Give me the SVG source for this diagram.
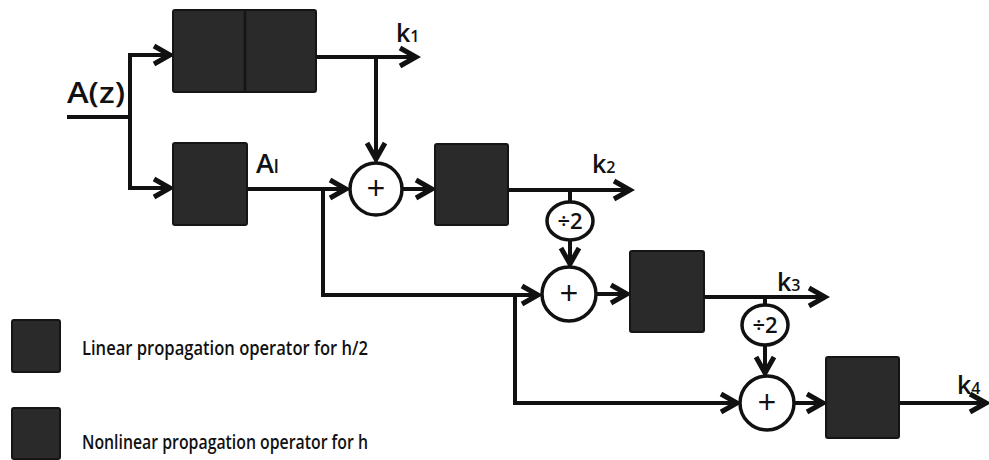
<svg xmlns="http://www.w3.org/2000/svg" width="989" height="460" viewBox="0 0 989 460">
<style>
.box{fill:#2a2a2a;stroke:#151515;stroke-width:2}
.wire{fill:none;stroke:#111;stroke-width:4;stroke-linejoin:miter}
.arr{marker-end:url(#ah)}
.op{fill:#fff;stroke:#111;stroke-width:3.5}
.t{font-family:"Open Sans","Liberation Sans",sans-serif;fill:#111;font-weight:600}
.sym{font-family:"Open Sans","Liberation Sans",sans-serif;fill:#111;text-anchor:middle}
</style>
<defs>
<marker id="ah" viewBox="0 0 24 24" refX="20" refY="12" markerWidth="24" markerHeight="24" markerUnits="userSpaceOnUse" orient="auto">
<path d="M3,3 L19,12 L3,21" fill="none" stroke="#111" stroke-width="5" stroke-linejoin="miter"/>
</marker>
</defs>
<rect width="989" height="460" fill="#fff"/>

<g id="connectors">
<path class="wire" d="M67,117 H130"/>
<path class="wire arr" d="M130,119 V55 H171"/>
<path class="wire arr" d="M130,115 V188 H171"/>
<path class="wire arr" d="M316,57 H417"/>
<path class="wire arr" d="M376,57 V160"/>
<path class="wire arr" d="M247,189 H347"/>
<path class="wire arr" d="M323,189 V295 H539"/>
<path class="wire arr" d="M402,189 H433"/>
<path class="wire arr" d="M508,190 H631"/>
<path class="wire" d="M570,190 V202"/>
<path class="wire arr" d="M570,240 V265"/>
<path class="wire arr" d="M596,294 H628"/>
<path class="wire arr" d="M515,294 V403 H738"/>
<path class="wire arr" d="M704,297 H826"/>
<path class="wire" d="M765,297 V305"/>
<path class="wire arr" d="M765,345 V374"/>
<path class="wire arr" d="M794,403 H824"/>
<path class="wire arr" d="M899,403 H987"/>
</g>

<g id="input-label"><text class="t" x="67" y="103" font-size="29" font-weight="500" textLength="58" lengthAdjust="spacingAndGlyphs">A(z)</text></g>

<g id="box-top">
<rect class="box" x="173" y="10" width="143" height="82" rx="2"/>
<line x1="245" y1="11" x2="245" y2="91" stroke="#151515" stroke-width="2.5"/>
</g>
<g id="box-al">
<rect class="box" x="173" y="143" width="74" height="82" rx="2"/>
<text class="t" x="256" y="173" font-size="27" font-weight="500">A<tspan font-size="18">l</tspan></text>
</g>
<g id="label-k1"><text class="t" x="396" y="42" font-size="25" font-weight="500">k<tspan font-size="16">1</tspan></text></g>

<g id="sum1">
<circle class="op" cx="376" cy="189" r="26"/>
<text class="sym" x="376" y="200" font-size="33">+</text>
</g>
<g id="box2"><rect class="box" x="435" y="144" width="73" height="81" rx="2"/></g>
<g id="label-k2"><text class="t" x="592" y="173" font-size="25" font-weight="500">k<tspan font-size="16">2</tspan></text></g>
<g id="half1">
<ellipse class="op" cx="570" cy="221" rx="23" ry="19"/>
<text class="sym" x="570" y="229" font-size="22" font-weight="600">÷2</text>
</g>

<g id="sum2">
<circle class="op" cx="569" cy="294" r="27"/>
<text class="sym" x="569" y="305" font-size="33">+</text>
</g>
<g id="box3"><rect class="box" x="630" y="251" width="74" height="81" rx="2"/></g>
<g id="label-k3"><text class="t" x="777" y="291" font-size="25" font-weight="500">k<tspan font-size="16">3</tspan></text></g>
<g id="half2">
<ellipse class="op" cx="765" cy="325" rx="23" ry="20"/>
<text class="sym" x="765" y="333" font-size="22" font-weight="600">÷2</text>
</g>

<g id="sum3">
<circle class="op" cx="767" cy="403" r="27"/>
<text class="sym" x="767" y="414" font-size="33">+</text>
</g>
<g id="box4"><rect class="box" x="826" y="357" width="73" height="81" rx="2"/></g>
<g id="label-k4"><text class="t" x="957" y="394" font-size="25" font-weight="500">k<tspan font-size="16">4</tspan></text></g>

<g id="legend-linear">
<rect class="box" x="12" y="320" width="48" height="52" rx="2"/>
<text class="t" x="82" y="355" font-size="20" textLength="286" lengthAdjust="spacingAndGlyphs">Linear propagation operator for h/2</text>
</g>
<g id="legend-nonlinear">
<rect class="box" x="12" y="408" width="48" height="51" rx="2"/>
<text class="t" x="82" y="449" font-size="20" textLength="286" lengthAdjust="spacingAndGlyphs">Nonlinear propagation operator for h</text>
</g>
</svg>
